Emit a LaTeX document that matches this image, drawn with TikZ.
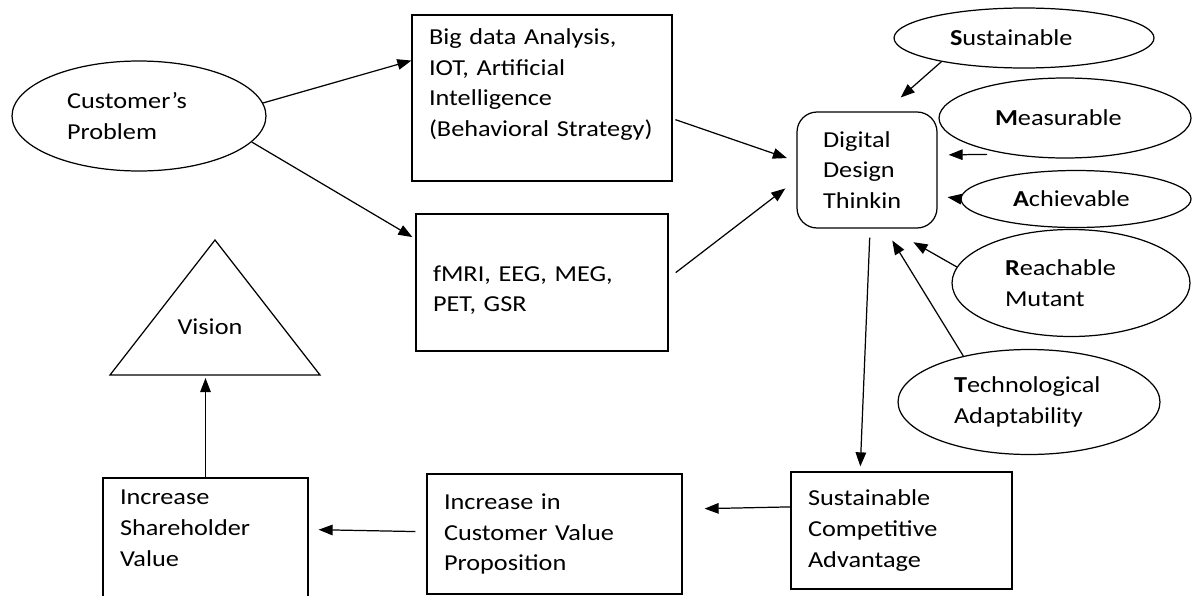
\documentclass[tikz,border=0pt]{standalone}
\usepackage{fontspec}
\setmainfont{Carlito}[FakeStretch=1.15]
\usetikzlibrary{shapes.geometric,arrows.meta}

\tikzstyle{block} = [draw, rectangle, align=left, inner xsep=0.34cm]
\tikzstyle{goal} = [draw, ellipse, align=left]
\tikzstyle{core} = [draw, rectangle, rounded corners=0.4cm, align=left, minimum width=2.8cm, minimum height=2.32cm]

\begin{document}
\begin{tikzpicture}[x=0.02cm, y=-0.02cm, line width=0.7pt, >={Triangle[length=8pt, width=6pt]}, font=\fontsize{13}{17.6}\selectfont]
		\useasboundingbox (0,0) rectangle (1192,595);

		\node [goal, minimum width=5.08cm, minimum height=2.2cm, text width=2.88cm] (problem) at (139,116) {Customer’s\\Problem};
		\node [block, minimum height=3.32cm, text width=4.52cm] (bigdata) at (542,98) {Big data Analysis,\\IOT, Artificial\\Intelligence\\\mbox{(Behavioral Strategy)}\\\mbox{}};
		\node [block, minimum height=2.74cm, text width=4.36cm] (scan) at (542,282.5) {\mbox{}\\fMRI, EEG, MEG,\\PET, GSR};
		\node [core, text width=1.76cm] (ddt) at (867,170) {Digital\\Design\\Thinkin};

		\node [goal, minimum width=5.2cm, minimum height=1.2cm, text width=2.96cm] (sus) at (1024,38) {\textbf{S}ustainable};
		\node [goal, minimum width=5.04cm, minimum height=1.6cm, text width=2.8cm] (mea) at (1065,118) {\textbf{M}easurable};
		\node [goal, minimum width=4.6cm, minimum height=1.14cm, text width=2.52cm] (ach) at (1076,199) {\textbf{A}chievable};
		\node [goal, minimum width=4.76cm, minimum height=2.14cm, text width=2.64cm] (rea) at (1071,283) {\textbf{R}eachable\\Mutant};
		\node [goal, minimum width=5.24cm, minimum height=2.1cm, text width=3.0cm] (tec) at (1029,402) {\textbf{T}echnological\\Adaptability};

		\draw (215,240) -- (320,375) -- (110,375) -- cycle;
		\node (vision) at (210,327) {Vision};
		\coordinate (visbase) at (205.5,378);

		\node [block, minimum height=2.64cm, text width=3.42cm] (share) at (205.5,544) {Increase\\Shareholder\\Value\\\mbox{}};
		\node [block, minimum height=2.4cm, text width=4.42cm] (cvp) at (554.5,534) {Increase in\\Customer Value\\Proposition};
		\node [block, minimum height=2.34cm, text width=3.74cm] (sca) at (901.5,530.5) {Sustainable\\Competitive\\Advantage};

		\draw [->] (problem.6) -- (bigdata.164);
		\draw [->, shorten >=2pt] (problem.-13) -- (scan.161);
		\draw [->, shorten <=0.06cm, shorten >=0.2cm] (bigdata.-9) -- (ddt.173);
		\draw [->, shorten <=0.18cm, shorten >=0.28cm] (scan.2) -- (ddt.188);

		\draw [->, shorten >=0.42cm] (sus.196) -- (ddt.73);
		\draw [->, shorten <=0.4cm, shorten >=0.22cm] (mea.212) -- (ddt.12);
		\draw [->, shorten >=0.2cm] (ach.west) -- (ddt.-20);
		\draw [->, shorten >=0.55cm] (rea.172) -- (ddt.-69);
		\draw [->, shorten >=0.28cm] (tec.145) -- (ddt.-73);

		\draw [->, shorten <=0.18cm, shorten >=0.1cm] (ddt.-87) -- (sca.125);
		\draw [->, shorten >=0.44cm] (sca.168) -- (cvp.11);
		\draw [->, shorten <=0.22cm, shorten >=0.2cm] (cvp.179) -- (share.8);
		\draw [->] (share.north) -- (visbase);
	\end{tikzpicture}
\end{document}
